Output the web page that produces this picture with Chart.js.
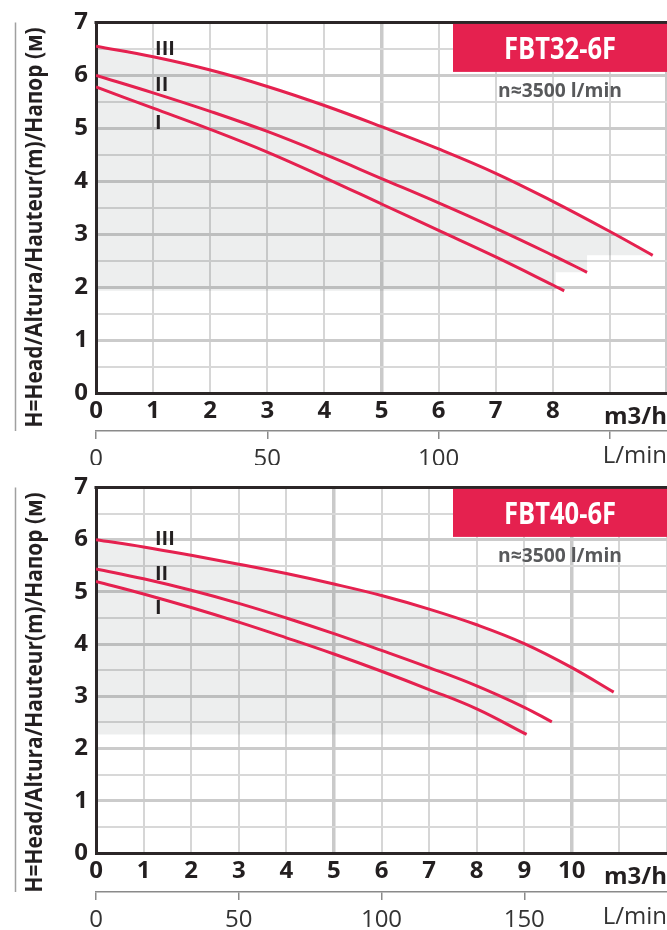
<!DOCTYPE html>
<html>
<head>
<meta charset="utf-8">
<script src="https://cdn.jsdelivr.net/npm/chart.js@4.4.1/dist/chart.umd.min.js"></script>
<style>
  html, body { margin: 0; padding: 0; background: #fff; }
  .chart-box { position: relative; width: 667px; height: 465px; }
</style>
</head>
<body>
<div class="chart-box"><canvas id="chartFBT32"></canvas></div>
<div class="chart-box"><canvas id="chartFBT40"></canvas></div>
<script>
// FBT32-6F, debit m3/h -> tinggi angkat m
const flow32I = [0, 1, 2, 3, 4, 5, 6, 7, 8, 8.2];
const head32I = [5.78, 5.38, 4.98, 4.55, 4.07, 3.57, 3.07, 2.57, 2.04, 1.93];
const flow32II = [0, 1, 2, 3, 4, 5, 6, 7, 8, 8.6];
const head32II = [6.0, 5.67, 5.32, 4.94, 4.51, 4.05, 3.59, 3.11, 2.6, 2.28];
const flow32III = [0, 1, 2, 3, 4, 5, 6, 7, 8, 9, 9.75];
const head32III = [6.55, 6.35, 6.1, 5.79, 5.43, 5.03, 4.61, 4.15, 3.62, 3.05, 2.6];
// batas area abu-abu (setelah ujung kurva III)
const band32X = [8.6, 8.6, 8.05, 8.05, 0];
const band32Y = [2.6, 2.28, 2.28, 1.93, 1.93];

// FBT40-6F
const flow40I = [0, 1, 2, 3, 4, 5, 6, 7, 8, 9.05];
const head40I = [5.2, 4.96, 4.7, 4.42, 4.12, 3.81, 3.48, 3.13, 2.76, 2.27];
const flow40II = [0, 1, 2, 3, 4, 5, 6, 7, 8, 9, 9.58];
const head40II = [5.44, 5.25, 5.03, 4.78, 4.5, 4.2, 3.88, 3.55, 3.2, 2.79, 2.51];
const flow40III = [0, 1, 2, 3, 4, 5, 6, 7, 8, 9, 10, 10.88];
const head40III = [6.0, 5.86, 5.7, 5.53, 5.35, 5.15, 4.93, 4.67, 4.37, 4.01, 3.55, 3.08];
const band40X = [9.05, 9.05, 0];
const band40Y = [3.08, 2.27, 2.27];

const curveNames = ["I", "II", "III"];
const yTitle = "H=Head/Altura/Hauteur(m)/Напор (м)";
const speedText = "n≈3500 l/min";

const RED = "#e5214f";
const INK = "#231f20";
const FONT = "'Open Sans', sans-serif";
Chart.defaults.font.family = FONT;

function curve(label, flows, heads) {
    return {
        label: label,
        data: flows.map((x, i) => ({ x: x, y: heads[i] })),
        borderColor: RED,
        borderWidth: 3,
        pointRadius: 0,
        tension: 0.4,
        fill: false
    };
}

const pumpDecor = {
    id: "pumpDecor",
    beforeDatasetsDraw(chart, args, o) {
        const { ctx } = chart;
        const xs = chart.scales.x, ys = chart.scales.y;
        const meta = chart.getDatasetMeta(2);
        ctx.save();
        ctx.beginPath();
        meta.dataset.path(ctx);
        o.bandX.forEach((v, i) => ctx.lineTo(xs.getPixelForValue(v), ys.getPixelForValue(o.bandY[i])));
        ctx.closePath();
        ctx.fillStyle = "rgba(60,70,70,0.09)";
        ctx.fill();
        ctx.restore();
    },
    afterDraw(chart, args, o) {
        const { ctx, chartArea: a } = chart;
        const xs = chart.scales.x, ys = chart.scales.y, x2 = chart.scales.x2;
        ctx.save();

        // garis atas
        ctx.strokeStyle = "#2b2627";
        ctx.lineWidth = 3;
        ctx.beginPath();
        ctx.moveTo(a.left - 1.5, a.top);
        ctx.lineTo(chart.width, a.top);
        ctx.stroke();

        // kotak model
        ctx.fillStyle = RED;
        ctx.fillRect(chart.width - 214, a.top + 1.5, 214, 48);
        ctx.fillStyle = "#fff";
        ctx.textAlign = "center";
        ctx.textBaseline = "alphabetic";
        ctx.font = "bold 30px " + FONT;
        ctx.fillText(o.model, 560, a.top + 36.5, 112);
        ctx.fillStyle = "#58595b";
        ctx.font = "bold 20px " + FONT;
        ctx.fillText(speedText, 560, a.top + 75, 124);

        // label kurva
        ctx.fillStyle = INK;
        ctx.textAlign = "left";
        ctx.textBaseline = "middle";
        ctx.font = "bold 20px " + FONT;
        curveNames.forEach((n, i) => {
            ctx.fillText(n, xs.getPixelForValue(o.tagX), ys.getPixelForValue(o.tagY[i]));
        });

        // satuan
        ctx.textAlign = "right";
        ctx.textBaseline = "alphabetic";
        ctx.font = "bold 24px " + FONT;
        ctx.fillText("m3/h", chart.width, a.bottom + 31);
        ctx.fillStyle = "#333";
        ctx.font = "24px " + FONT;
        ctx.fillText("L/min", chart.width, x2.top + 32);

        // judul sumbu y
        ctx.strokeStyle = "#a0a0a0";
        ctx.lineWidth = 1.5;
        ctx.beginPath();
        ctx.moveTo(15.5, a.top);
        ctx.lineTo(15.5, x2.top);
        ctx.stroke();
        ctx.translate(42, a.top + 205);
        ctx.rotate(-Math.PI / 2);
        ctx.fillStyle = INK;
        ctx.textAlign = "center";
        ctx.font = "bold 24px " + FONT;
        ctx.fillText(yTitle, 0, 0, 400);
        ctx.restore();
    }
};

function noSidePad(s) {
    s.paddingLeft = 0;
    s.paddingRight = 0;
}

function buildChart(id, c) {
    const el = document.getElementById(id);
    if (!el) return;
    new Chart(el, {
        type: "line",
        data: {
            datasets: [
                curve("I", c.flows[0], c.heads[0]),
                curve("II", c.flows[1], c.heads[1]),
                curve("III", c.flows[2], c.heads[2])
            ]
        },
        options: {
            responsive: true,
            maintainAspectRatio: false,
            animation: false,
            layout: { padding: { top: c.padTop, left: 0, right: 0, bottom: 0 } },
            plugins: {
                legend: { display: false },
                tooltip: { enabled: false },
                pumpDecor: c.decor
            },
            scales: {
                x: {
                    type: "linear",
                    position: "bottom",
                    weight: 0,
                    min: 0,
                    max: c.xMax,
                    afterFit: s => { s.height = c.xH; noSidePad(s); },
                    ticks: {
                        stepSize: 1,
                        includeBounds: false,
                        autoSkip: false,
                        maxRotation: 0,
                        padding: 4,
                        color: INK,
                        font: { size: 24, weight: "bold" },
                        callback: v => (v <= c.xLast ? v : "")
                    },
                    grid: {
                        drawTicks: false,
                        color: ctx => (ctx.tick && (ctx.tick.value === 5 || ctx.tick.value === 10) ? "#cacaca" : "#d6d6d6"),
                        lineWidth: ctx => (ctx.tick && (ctx.tick.value === 5 || ctx.tick.value === 10) ? 3.5 : 2)
                    },
                    border: { color: "#2b2627", width: 3 }
                },
                x2: {
                    type: "linear",
                    position: "bottom",
                    weight: 1,
                    min: 0,
                    max: c.xMax * 50 / 3,
                    afterFit: s => { s.height = c.x2H; noSidePad(s); },
                    afterBuildTicks: s => { s.ticks = s.ticks.filter(t => t.value <= 150); },
                    ticks: {
                        stepSize: 50,
                        includeBounds: false,
                        autoSkip: false,
                        maxRotation: 0,
                        padding: 6,
                        color: "#333",
                        font: { size: 24, weight: "normal" },
                        callback: v => (v <= c.lLast ? v : "")
                    },
                    grid: {
                        drawOnChartArea: false,
                        drawTicks: true,
                        tickLength: 8,
                        color: "#8a8a8a",
                        lineWidth: 1.5
                    },
                    border: { color: "#8a8a8a", width: 1.5 }
                },
                y: {
                    min: 0,
                    max: 7,
                    afterFit: s => { s.width = 96; },
                    ticks: {
                        stepSize: 0.5,
                        autoSkip: false,
                        padding: 8,
                        color: INK,
                        font: { size: 24, weight: "bold" },
                        callback: v => (Number.isInteger(v) ? v : "")
                    },
                    grid: {
                        drawTicks: false,
                        color: ctx => (ctx.tick && Number.isInteger(ctx.tick.value) ? "#cbcbcb" : "#d8d8d8"),
                        lineWidth: ctx => (ctx.tick && Number.isInteger(ctx.tick.value) ? 3 : 2)
                    },
                    border: { color: "#2b2627", width: 3 }
                }
            }
        },
        plugins: [pumpDecor]
    });
}

document.addEventListener("DOMContentLoaded", () => {
    buildChart("chartFBT32", {
        flows: [flow32I, flow32II, flow32III],
        heads: [head32I, head32II, head32III],
        padTop: 18, xH: 38, x2H: 34, xMax: 10, xLast: 8, lLast: 100,
        decor: { model: "FBT32-6F", bandX: band32X, bandY: band32Y, tagX: 1.035, tagY: [5.1, 5.82, 6.5] }
    });
    buildChart("chartFBT40", {
        flows: [flow40I, flow40II, flow40III],
        heads: [head40I, head40II, head40III],
        padTop: 15, xH: 39, x2H: 38, xMax: 12, xLast: 10, lLast: 150,
        decor: { model: "FBT40-6F", bandX: band40X, bandY: band40Y, tagX: 1.24, tagY: [4.68, 5.33, 6.0] }
    });
});
</script>
</body>
</html>
